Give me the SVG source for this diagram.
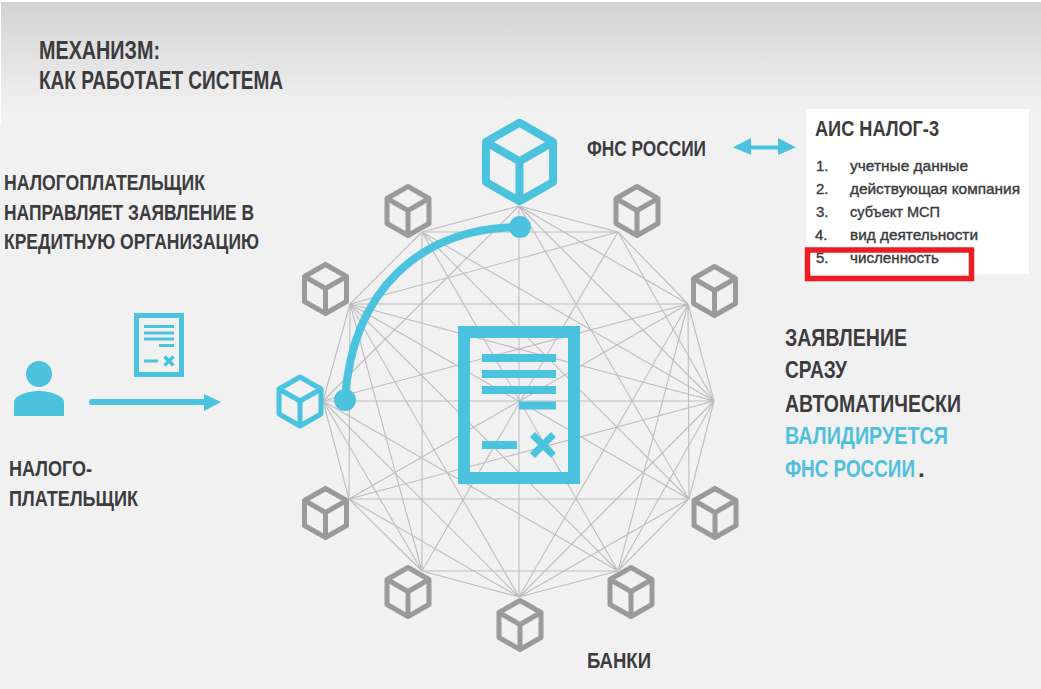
<svg xmlns="http://www.w3.org/2000/svg" width="1041" height="689" viewBox="0 0 1041 689">
<style>
text{font-family:"Liberation Sans","Noto Sans",sans-serif;font-weight:700;fill:#3c3c3e}
.h{font-size:25px}
.m{font-size:22px}
.l{font-size:24.500px}
.li{font-size:15px;font-weight:400;stroke:#3c3c3e;stroke-width:.4px}
.b{fill:#4fc0dc}
.net{fill:none;stroke:#bdbdbf;stroke-width:1.1}
.cb{fill:none;stroke-width:5;stroke-linejoin:round}
.gr{stroke:#9a9a9c}
.bl{stroke:#4bc3df}
.f{fill:#4bc3df}
</style>
<defs>
<linearGradient id="g" x1="0" y1="0" x2="0" y2="1"><stop offset="0" stop-color="#d3d3d3"/><stop offset="1" stop-color="#f1f1f2"/></linearGradient>
<g id="cube"><path d="M0 -24.500L21 -12.500V12.500L0 24.500L-21 12.500V-12.500ZM-21 -12.500L0 -0.500L21 -12.500M0 -0.500V24.500"/></g>
</defs>
<rect width="1041" height="689" fill="#ffffff"/>
<rect y="125" width="1041" height="564" fill="#f1f1f2"/>
<rect x="1" y="110" width="1040" height="15" fill="#f1f1f2"/>
<rect x="1" y="2" width="1040" height="108" fill="url(#g)"/>
<g id="connectors" class="net">
<path d="M519 206L618 232M519 206L688 304M519 206L714 401M519 206L689 499M519 206L519 597M519 206L323 401M519 206L422 232"/>
<path d="M618 232L688 304M618 232L714 401M618 232L422 571M618 232L350 304M618 232L422 232"/>
<path d="M688 304L714 401M688 304L689 499M688 304L618 571M688 304L519 597M688 304L349 499M688 304L323 401M688 304L350 304"/>
<path d="M714 401L689 499M714 401L618 571M714 401L519 597M714 401L349 499M714 401L323 401M714 401L350 304M714 401L422 232"/>
<path d="M689 499L618 571M689 499L519 597M689 499L349 499M689 499L350 304M689 499L422 232"/>
<path d="M618 571L519 597M618 571L422 571M618 571L323 401M618 571L350 304M618 571L422 232"/>
<path d="M519 597L422 571M519 597L349 499M519 597L323 401M519 597L350 304"/>
<path d="M422 571L349 499M422 571L323 401M422 571L350 304M422 571L422 232"/>
<path d="M349 499L323 401M349 499L350 304"/>
<path d="M323 401L350 304"/>
<path d="M350 304L422 232"/>
</g>
<g id="document">
<rect x="464" y="332" width="110" height="146" fill="none" stroke="#4bc3df" stroke-width="12"/>
<path class="f" d="M482 354H556V362H482ZM482 370H556V378H482ZM482 386H556V394H482ZM519 401.500H556V409.500H519ZM482 441H517V449H482Z"/>
<path class="f" d="M535 432L543 440L551 432L556 437L548 445L556 453L551 458L543 450L535 458L530 453L538 445L530 437Z"/>
</g>
<g id="path-curve">
<path d="M345 400C352 290 420 228 520 227" fill="none" stroke="#4bc3df" stroke-width="8"/>
<circle class="f" cx="345" cy="400" r="11"/>
<circle class="f" cx="520" cy="227" r="11"/>
</g>
<g id="node-fns"><use href="#cube" class="cb bl" transform="translate(519.500 162) scale(1.600)"/></g>
<g id="node-1"><use href="#cube" class="cb gr" transform="translate(408 211)"/></g>
<g id="node-2"><use href="#cube" class="cb gr" transform="translate(637 211)"/></g>
<g id="node-3"><use href="#cube" class="cb gr" transform="translate(325.500 289)"/></g>
<g id="node-4"><use href="#cube" class="cb gr" transform="translate(714.500 291)"/></g>
<g id="node-5"><use href="#cube" class="cb bl" transform="translate(300 401.500)"/></g>
<g id="node-6"><use href="#cube" class="cb gr" transform="translate(325.500 513)"/></g>
<g id="node-7"><use href="#cube" class="cb gr" transform="translate(715 513)"/></g>
<g id="node-8"><use href="#cube" class="cb gr" transform="translate(408 592)"/></g>
<g id="node-9"><use href="#cube" class="cb gr" transform="translate(631 592)"/></g>
<g id="node-10"><use href="#cube" class="cb gr" transform="translate(520 625)"/></g>
<g id="title">
<text class="h" x="39" y="59" textLength="121" lengthAdjust="spacingAndGlyphs">МЕХАНИЗМ:</text>
<text class="h" x="39" y="89" textLength="244" lengthAdjust="spacingAndGlyphs">КАК РАБОТАЕТ СИСТЕМА</text>
</g>
<g id="taxpayer-note">
<text class="m" x="4" y="190" textLength="201" lengthAdjust="spacingAndGlyphs">НАЛОГОПЛАТЕЛЬЩИК</text>
<text class="m" x="4" y="220" textLength="250" lengthAdjust="spacingAndGlyphs">НАПРАВЛЯЕТ ЗАЯВЛЕНИЕ В</text>
<text class="m" x="4" y="249" textLength="255" lengthAdjust="spacingAndGlyphs">КРЕДИТНУЮ ОРГАНИЗАЦИЮ</text>
</g>
<g id="taxpayer">
<circle class="f" cx="39" cy="374" r="13"/>
<path class="f" d="M14 416V402C14 396 27 391 39 391C51 391 64 396 64 402V416Z"/>
<text class="m" x="9" y="476" textLength="83" lengthAdjust="spacingAndGlyphs">НАЛОГО-</text>
<text class="m" x="9" y="506" textLength="129" lengthAdjust="spacingAndGlyphs">ПЛАТЕЛЬЩИК</text>
</g>
<g id="small-doc">
<rect x="136.500" y="315.500" width="45" height="59" fill="none" stroke="#4bc3df" stroke-width="5"/>
<path class="f" d="M144 325H174V328H144ZM144 331.500H174V334.500H144ZM144 337.500H174V340.500H144ZM159 344H174V347H159ZM144 359.500H158V362.500H144Z"/>
<path d="M164.500 356.500L173.500 365.500M173.500 356.500L164.500 365.500" fill="none" stroke="#4bc3df" stroke-width="3.500"/>
</g>
<g id="arrow-right">
<path d="M92 402H206" fill="none" stroke="#4bc3df" stroke-width="6" stroke-linecap="round"/>
<path class="f" d="M204 394L221 402L204 411Z"/>
</g>
<g id="fns-label"><text class="m" x="587" y="156" textLength="119" lengthAdjust="spacingAndGlyphs">ФНС РОССИИ</text></g>
<g id="banks-label"><text class="m" x="587" y="668" textLength="64" lengthAdjust="spacingAndGlyphs">БАНКИ</text></g>
<g id="double-arrow"><path class="f" d="M733 147.300L751 138V145.500H778V138L796 147.300L778 155V149.500H751V155Z"/></g>
<g id="ais-panel">
<rect x="806" y="109" width="223" height="165" fill="#fff"/>
<text class="m" x="815" y="136" textLength="124" lengthAdjust="spacingAndGlyphs">АИС НАЛОГ-3</text>
<text class="li" x="816" y="171">1.</text><text class="li" x="850" y="171" textLength="118" lengthAdjust="spacingAndGlyphs">учетные данные</text>
<text class="li" x="816" y="194">2.</text><text class="li" x="850" y="194" textLength="170" lengthAdjust="spacingAndGlyphs">действующая компания</text>
<text class="li" x="816" y="217">3.</text><text class="li" x="850" y="217" textLength="90" lengthAdjust="spacingAndGlyphs">субъект МСП</text>
<text class="li" x="815" y="240">4.</text><text class="li" x="850" y="240" textLength="128" lengthAdjust="spacingAndGlyphs">вид деятельности</text>
<text class="li" x="816" y="263">5.</text><text class="li" x="850" y="263" textLength="89" lengthAdjust="spacingAndGlyphs">численность</text>
<rect x="807.500" y="250" width="164" height="28.500" fill="none" stroke="#ed1c24" stroke-width="5.500"/>
</g>
<g id="validation-note">
<text class="l" x="785" y="346" textLength="122" lengthAdjust="spacingAndGlyphs">ЗАЯВЛЕНИЕ</text>
<text class="l" x="785" y="378" textLength="62" lengthAdjust="spacingAndGlyphs">СРАЗУ</text>
<text class="l" x="785" y="412" textLength="176" lengthAdjust="spacingAndGlyphs">АВТОМАТИЧЕСКИ</text>
<text class="l b" x="785" y="444" textLength="163" lengthAdjust="spacingAndGlyphs">ВАЛИДИРУЕТСЯ</text>
<text class="l b" x="785" y="477" textLength="130" lengthAdjust="spacingAndGlyphs">ФНС РОССИИ</text>
<text class="l" x="918" y="477">.</text>
</g>
</svg>
